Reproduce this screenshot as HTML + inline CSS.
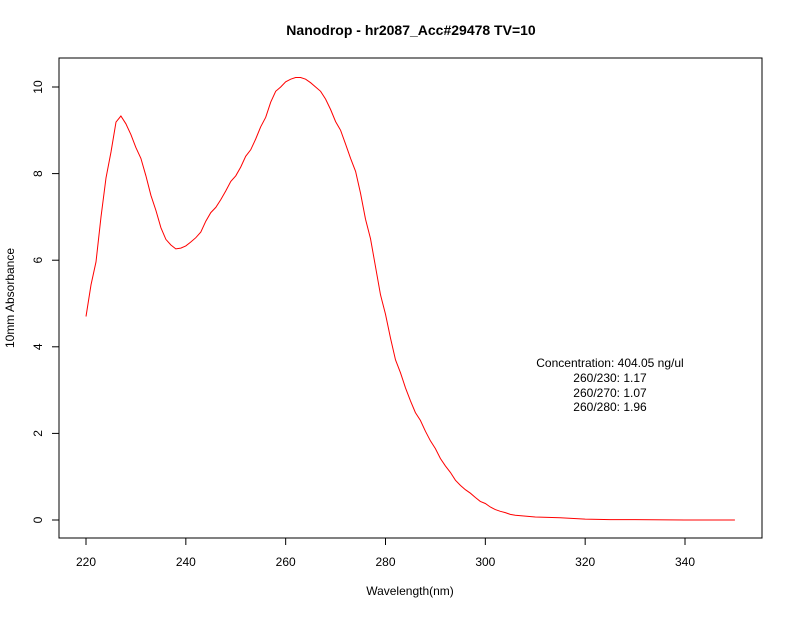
<!DOCTYPE html>
<html><head><meta charset="utf-8"><style>
body{margin:0;background:#fff;}
svg text{font-family:"Liberation Sans",sans-serif;fill:#000;}
</style></head><body>
<svg width="792" height="612" viewBox="0 0 792 612" xmlns="http://www.w3.org/2000/svg">
<rect x="0" y="0" width="792" height="612" fill="#fff"/>
<text x="411" y="35" text-anchor="middle" font-size="14" font-weight="bold">Nanodrop - hr2087_Acc#29478 TV=10</text>
<rect x="59" y="58" width="703" height="480" fill="none" stroke="#000" stroke-width="1"/>
<g id="xaxis"></g>
<g id="yaxis"></g>
<text x="410" y="595" text-anchor="middle" font-size="12">Wavelength(nm)</text>
<text x="14" y="298" text-anchor="middle" font-size="12" transform="rotate(-90 14 298)">10mm Absorbance</text>
<path id="curve" fill="none" stroke="#ff0000" stroke-width="1"/>
<g font-size="12">
<text x="610" y="367" text-anchor="middle">Concentration: 404.05 ng/ul</text>
<text x="610" y="382" text-anchor="middle">260/230: 1.17</text>
<text x="610" y="397" text-anchor="middle">260/270: 1.07</text>
<text x="610" y="411" text-anchor="middle">260/280: 1.96</text>
</g>
</svg>
<script>
const wavelengths=[220,221,222,223,224,225,226,227,228,229,230,231,232,233,234,235,236,237,238,239,240,241,242,243,244,245,246,247,248,249,250,251,252,253,254,255,256,257,258,259,260,261,262,263,264,265,266,267,268,269,270,271,272,273,274,275,276,277,278,279,280,281,282,283,284,285,286,287,288,289,290,291,292,293,294,295,296,297,298,299,300,301,302,303,304,305,306,308,310,315,320,325,330,340,350];
const absorbance=[4.7,5.43,5.96,7.0,7.9,8.5,9.19,9.33,9.15,8.9,8.6,8.35,7.95,7.5,7.15,6.75,6.48,6.35,6.26,6.28,6.33,6.42,6.52,6.65,6.9,7.1,7.22,7.4,7.6,7.82,7.95,8.15,8.4,8.55,8.8,9.08,9.3,9.65,9.9,10.0,10.12,10.18,10.22,10.22,10.18,10.1,10.0,9.9,9.72,9.48,9.2,9.0,8.68,8.35,8.05,7.55,6.95,6.5,5.85,5.2,4.75,4.2,3.7,3.4,3.05,2.75,2.48,2.3,2.05,1.83,1.65,1.42,1.25,1.1,0.92,0.8,0.7,0.62,0.52,0.43,0.38,0.3,0.24,0.2,0.17,0.13,0.11,0.09,0.07,0.05,0.02,0.01,0.01,0.0,0.0];
const xTicks=[220,240,260,280,300,320,340];
const yTicks=[0,2,4,6,8,10];
const NS="http://www.w3.org/2000/svg";
function xs(v){return 86+(v-220)*599/120;}
function ys(v){return 520-v*43.3;}
document.getElementById('curve').setAttribute('d',wavelengths.map((w,i)=>(i?'L':'M')+xs(w).toFixed(1)+','+ys(absorbance[i]).toFixed(1)).join(''));
const xa=document.getElementById('xaxis');
let l=document.createElementNS(NS,'line');
l.setAttribute('x1',xs(220));l.setAttribute('x2',xs(340));l.setAttribute('y1',538);l.setAttribute('y2',538);l.setAttribute('stroke','#000');
xa.appendChild(l);
xTicks.forEach(t=>{
 const tk=document.createElementNS(NS,'line');
 
 
 tk.setAttribute('x1',xs(t));tk.setAttribute('x2',xs(t));tk.setAttribute('y1',538);tk.setAttribute('y2',545);tk.setAttribute('stroke','#000');
 xa.appendChild(tk);
 const tx=document.createElementNS(NS,'text');
 
 
 tx.setAttribute('x',xs(t));tx.setAttribute('y',566);tx.setAttribute('text-anchor','middle');tx.setAttribute('font-size','12');
 tx.textContent=t;xa.appendChild(tx);
});
const ya=document.getElementById('yaxis');
l=document.createElementNS(NS,'line');
l.setAttribute('x1',59);l.setAttribute('x2',59);l.setAttribute('y1',ys(0));l.setAttribute('y2',ys(10));l.setAttribute('stroke','#000');
ya.appendChild(l);
yTicks.forEach(t=>{
 const tk=document.createElementNS(NS,'line');
 
 
 tk.setAttribute('x1',52);tk.setAttribute('x2',59);tk.setAttribute('y1',ys(t));tk.setAttribute('y2',ys(t));tk.setAttribute('stroke','#000');
 ya.appendChild(tk);
 const tx=document.createElementNS(NS,'text');
 
 
 tx.setAttribute('x',42);tx.setAttribute('y',ys(t));tx.setAttribute('text-anchor','middle');tx.setAttribute('font-size','12');
 tx.setAttribute('transform','rotate(-90 42 '+ys(t)+')');
 tx.textContent=t;ya.appendChild(tx);
});
</script>
</body></html>
